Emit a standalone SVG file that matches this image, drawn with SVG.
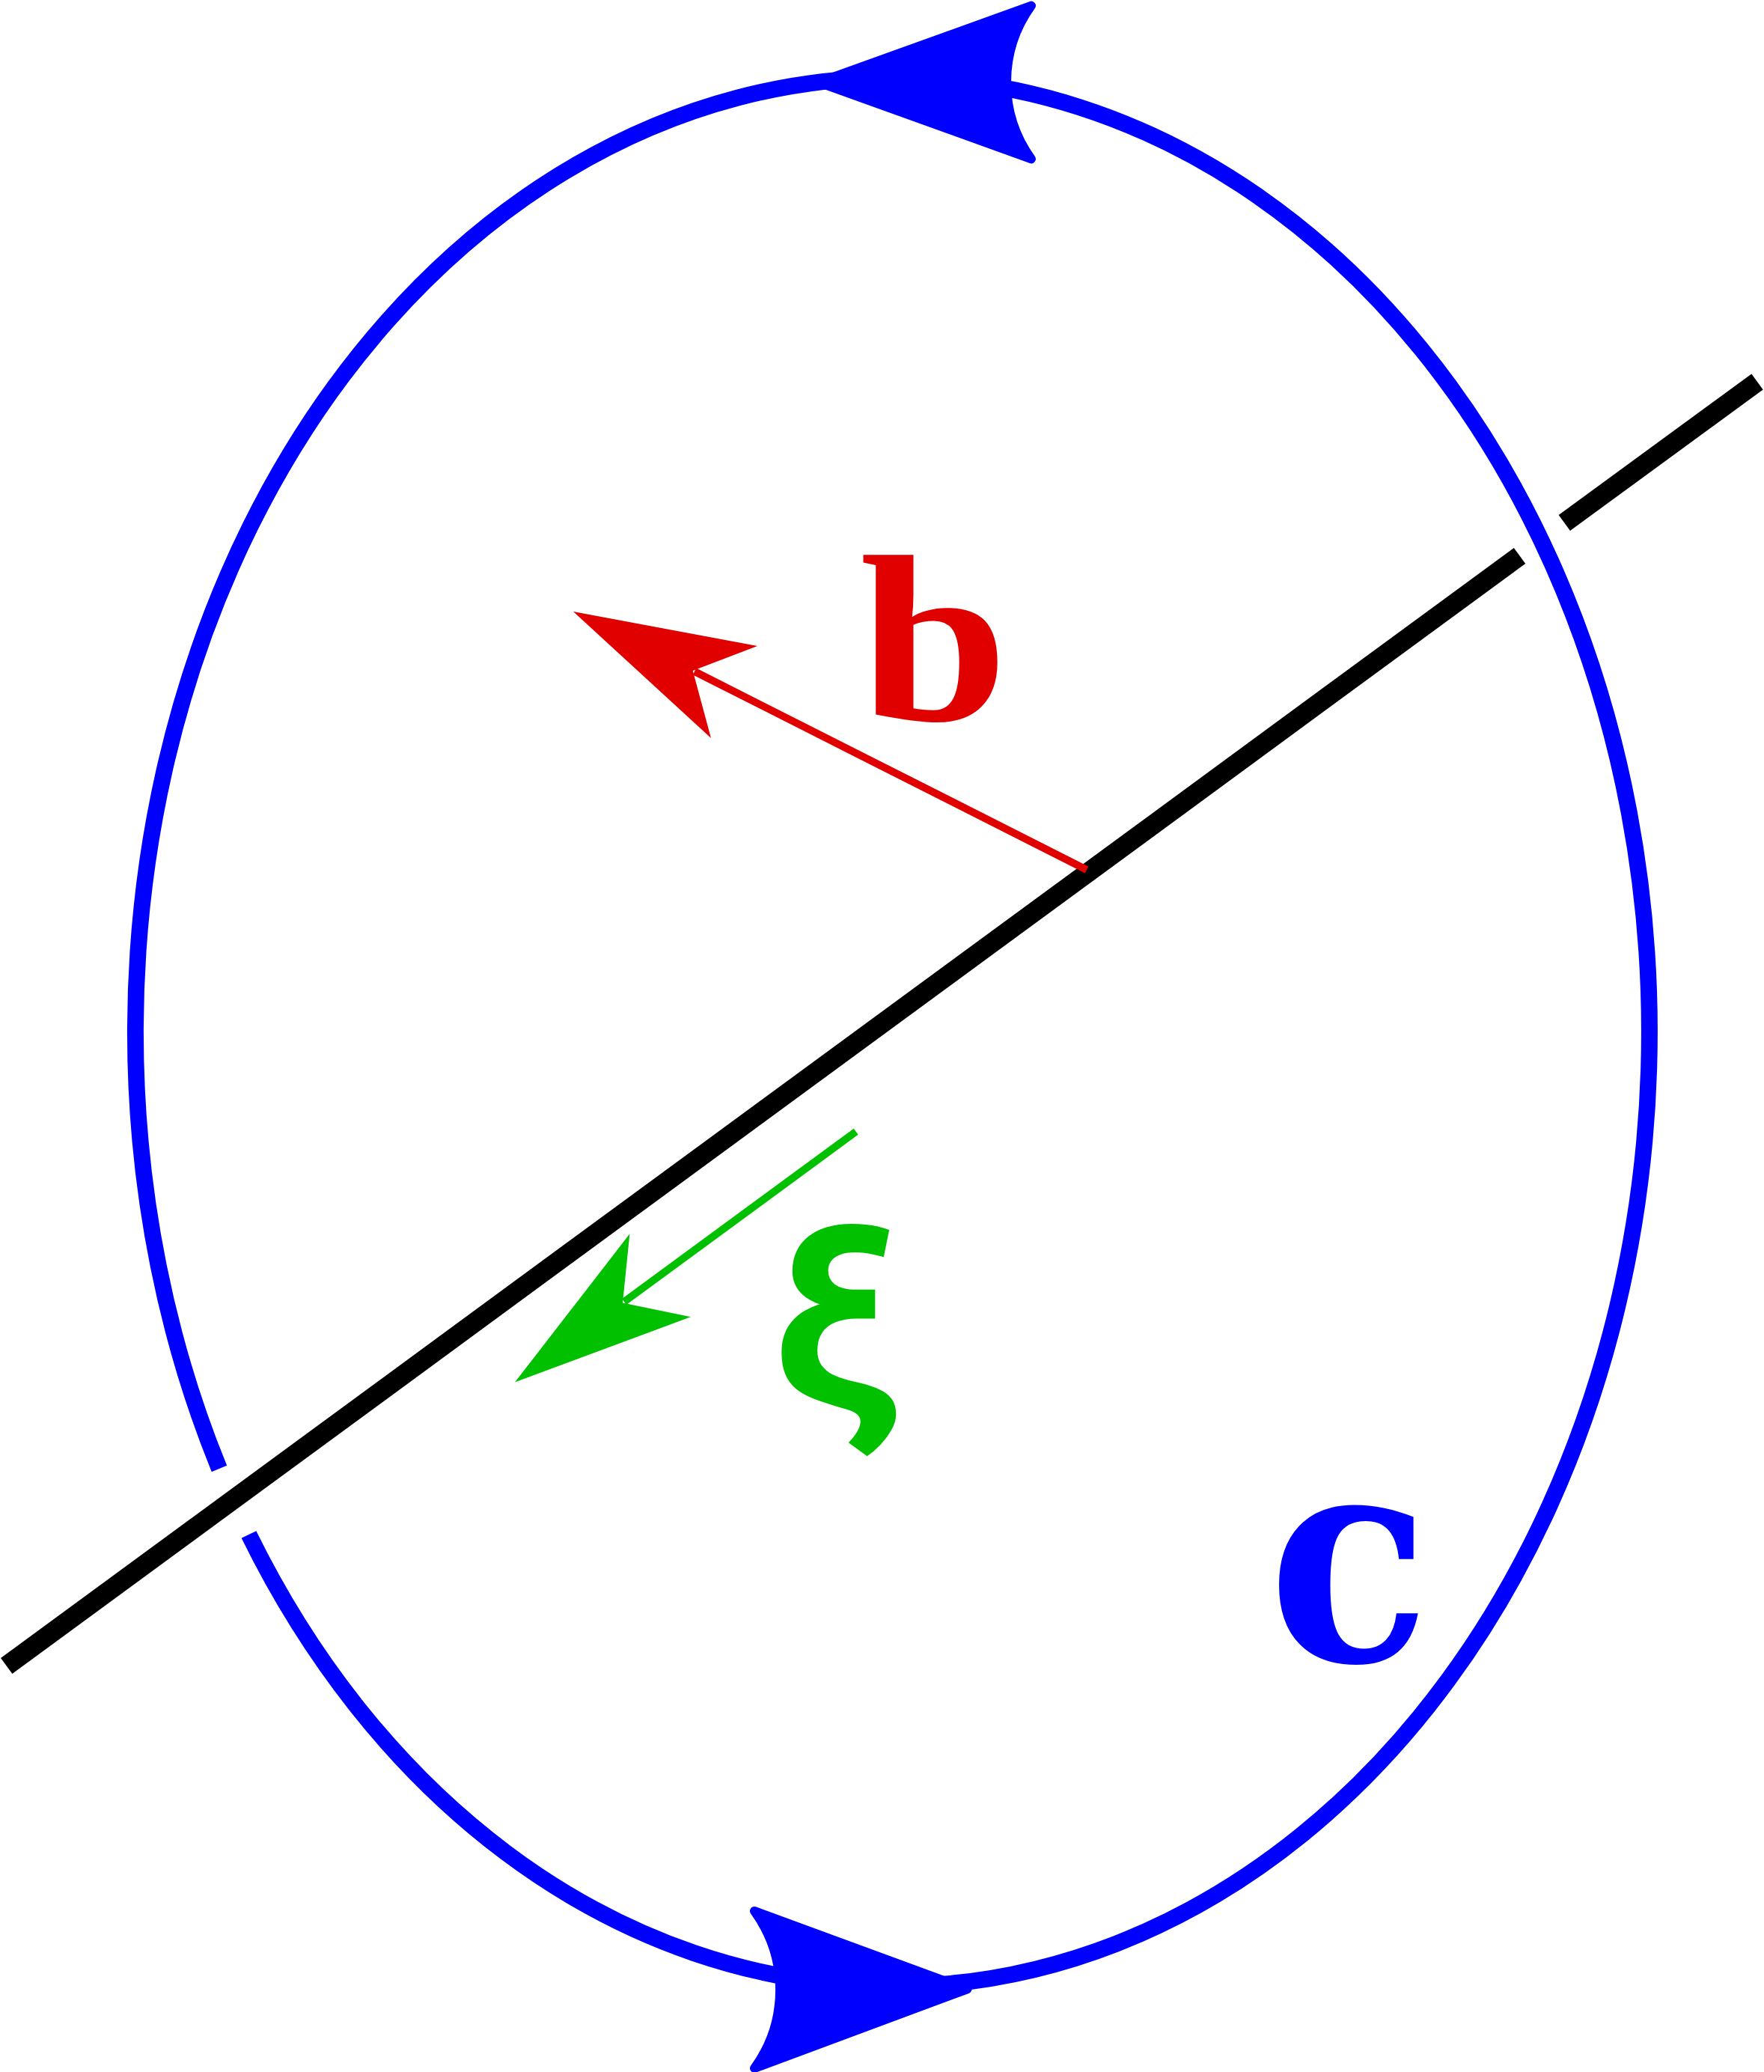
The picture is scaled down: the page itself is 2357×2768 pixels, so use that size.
<svg xmlns="http://www.w3.org/2000/svg" width="2357" height="2768" viewBox="0 0 2357 2768">
<style>
.loop{fill:none;stroke:#0000ff;stroke-width:22;stroke-linecap:butt}
.loophead{fill:#0000ff;stroke:#0000ff;stroke-width:12;stroke-linejoin:round}
.axis{fill:none;stroke:#000000;stroke-width:26;stroke-linecap:butt}
.vecb{fill:none;stroke:#e00000;stroke-width:10;stroke-linecap:butt}
.headb{fill:#e00000;stroke:none}
.vecx{fill:none;stroke:#00c000;stroke-width:10;stroke-linecap:butt}
.headx{fill:#00c000;stroke:none}
.serif{font-family:"Liberation Serif","DejaVu Serif",serif;font-weight:bold}
.serif2{font-family:"DejaVu Serif","Liberation Serif",serif;font-weight:bold}
.greek{font-family:Roboto,"DejaVu Sans",sans-serif;font-weight:bold}
</style>
<rect x="0" y="0" width="2357" height="2768" fill="#ffffff"/>
<g id="connectors">
  <g id="curve-C">
    <path class="loop" d="M 293,1962 A 1011.5 1275 0 1 1 332.5,2050"/>
    <path class="loophead" d="M 1094,110 L 1378,7.6 A 175.4 175.4 0 0 0 1378,212.4 Z"/>
    <path class="loophead" d="M 1292.5,2657.3 L 1008,2553 A 178.8 178.8 0 0 1 1008,2763 Z"/>
  </g>
  <g id="dislocation-line">
    <path class="axis" d="M 8.7,2225.5 L 2030.5,742.5"/>
    <path class="axis" d="M 2090.3,698.5 L 2348,510"/>
  </g>
  <g id="vector-b">
    <path class="vecb" d="M 1452,1162 L 928,897"/>
    <path class="headb" d="M 766,817 L 1012,863 L 925.7,895.9 L 950,986 Z"/>
  </g>
  <g id="vector-xi">
    <path class="vecx" d="M 1143.7,1511.7 L 834,1739"/>
    <path class="headx" d="M 688,1846.5 L 841.4,1648.3 L 832,1740.5 L 922.9,1759.3 Z"/>
  </g>
</g>
<g id="label-b"><text class="serif" transform="translate(1149,962) scale(1.12,1)" x="0" y="0" font-size="318" fill="#e00000">b</text></g>
<g id="label-xi"><text class="greek" x="1027" y="1880" font-size="340" fill="#00c000">ξ</text></g>
<g id="label-C"><text class="serif2" transform="translate(1694.5,2218.5) scale(0.91,1)" x="0" y="0" font-size="390" fill="#0000ff">c</text></g>
</svg>
